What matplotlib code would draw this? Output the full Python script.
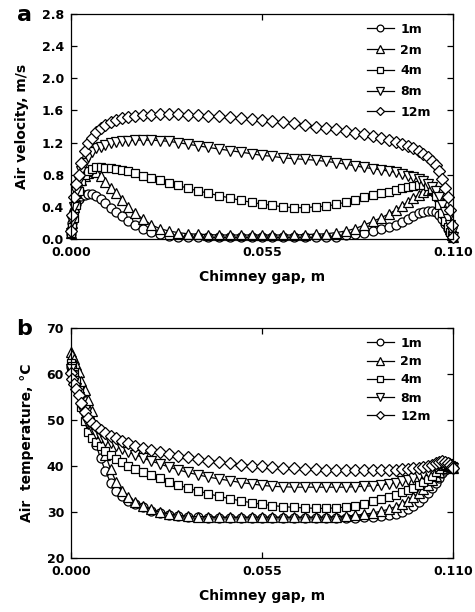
import numpy as np
import matplotlib
matplotlib.use("Agg")
import matplotlib.pyplot as plt

plt.rcParams['font.family'] = ['DejaVu Sans']
plt.rcParams['font.weight'] = 'bold'

# chimney gap positions (mm), shared by all series
gap_mm = [0, 0.4, 0.9, 1.5, 2.2, 3.0, 3.9, 4.9, 6.0, 7.2,
          8.5, 9.9, 11.4, 13.0, 14.7, 16.5, 18.5, 20.7, 23.0, 25.5,
          28.1, 30.8, 33.6, 36.5, 39.5, 42.6, 45.8, 49.0, 52.2, 55.0,
          57.8, 61.0, 64.2, 67.4, 70.5, 73.5, 76.4, 79.2, 81.9, 84.5,
          87.0, 89.3, 91.5, 93.5, 95.3, 97.0, 98.6, 100.1, 101.5, 102.8,
          104.0, 105.1, 106.1, 107.0, 107.8, 108.5, 109.1, 109.6, 110.0]

labels = ['1m', '2m', '4m', '8m', '12m']

# air velocity, m/s
v_1m = [0.06, 0.20, 0.35, 0.44, 0.50, 0.53, 0.55, 0.56, 0.555, 0.53,
        0.50, 0.45, 0.39, 0.33, 0.28, 0.22, 0.17, 0.12, 0.09, 0.06,
        0.04, 0.03, 0.025, 0.02, 0.02, 0.02, 0.02, 0.02, 0.02, 0.02,
        0.02, 0.02, 0.02, 0.02, 0.02, 0.02, 0.03, 0.045, 0.06, 0.08,
        0.10, 0.125, 0.15, 0.18, 0.215, 0.25, 0.29, 0.32, 0.34, 0.35,
        0.35, 0.335, 0.30, 0.25, 0.19, 0.12, 0.07, 0.04, 0.02]
v_2m = [0.07, 0.20, 0.40, 0.57, 0.66, 0.73, 0.78, 0.82, 0.84, 0.83,
        0.79, 0.71, 0.64, 0.57, 0.49, 0.40, 0.32, 0.25, 0.18, 0.13,
        0.10, 0.08, 0.065, 0.06, 0.055, 0.05, 0.05, 0.05, 0.05, 0.05,
        0.05, 0.05, 0.05, 0.055, 0.06, 0.065, 0.08, 0.10, 0.13, 0.175,
        0.22, 0.265, 0.31, 0.36, 0.41, 0.46, 0.51, 0.55, 0.58, 0.61,
        0.62, 0.60, 0.53, 0.43, 0.32, 0.22, 0.12, 0.05, 0.02]
v_4m = [0.07, 0.15, 0.26, 0.42, 0.60, 0.72, 0.80, 0.85, 0.875, 0.89,
        0.89, 0.885, 0.88, 0.87, 0.86, 0.84, 0.82, 0.79, 0.76, 0.73,
        0.70, 0.67, 0.63, 0.60, 0.57, 0.54, 0.51, 0.48, 0.455, 0.435,
        0.42, 0.40, 0.39, 0.39, 0.40, 0.41, 0.43, 0.46, 0.49, 0.52,
        0.55, 0.57, 0.59, 0.61, 0.63, 0.65, 0.66, 0.67, 0.67, 0.66,
        0.62, 0.54, 0.42, 0.32, 0.22, 0.15, 0.09, 0.05, 0.02]
v_8m = [0.08, 0.22, 0.40, 0.58, 0.72, 0.85, 0.95, 1.02, 1.08, 1.13,
        1.15, 1.17, 1.19, 1.205, 1.215, 1.225, 1.23, 1.23, 1.23, 1.225,
        1.215, 1.20, 1.18, 1.16, 1.14, 1.12, 1.10, 1.08, 1.06, 1.04,
        1.03, 1.01, 1.00, 0.99, 0.98, 0.965, 0.95, 0.93, 0.91, 0.89,
        0.875, 0.86, 0.845, 0.83, 0.81, 0.79, 0.77, 0.75, 0.72, 0.69,
        0.65, 0.60, 0.52, 0.42, 0.33, 0.25, 0.17, 0.09, 0.02]
v_12m = [0.10, 0.30, 0.52, 0.68, 0.80, 0.95, 1.10, 1.19, 1.26, 1.33,
         1.38, 1.42, 1.45, 1.48, 1.50, 1.52, 1.53, 1.54, 1.545, 1.55,
         1.55, 1.55, 1.545, 1.54, 1.535, 1.525, 1.515, 1.50, 1.49, 1.48,
         1.47, 1.455, 1.44, 1.42, 1.40, 1.385, 1.365, 1.345, 1.325, 1.305,
         1.28, 1.26, 1.235, 1.21, 1.185, 1.16, 1.13, 1.10, 1.06, 1.02,
         0.97, 0.92, 0.84, 0.75, 0.64, 0.52, 0.36, 0.17, 0.03]

# air temperature, C
t_1m = [61.5, 61.0, 60.2, 59.0, 57.5, 55.6, 53.2, 50.5, 47.5, 44.6,
        41.7, 38.9, 36.4, 34.6, 33.4, 32.5, 31.7, 31.0, 30.3, 29.8,
        29.4, 29.1, 29.0, 28.9, 28.8, 28.8, 28.8, 28.8, 28.8, 28.8,
        28.8, 28.8, 28.8, 28.8, 28.8, 28.8, 28.8, 28.8, 28.8, 28.9,
        29.0, 29.1, 29.3, 29.6, 30.0, 30.6, 31.3, 32.2, 33.1, 34.1,
        35.2, 36.3, 37.4, 38.4, 39.2, 39.7, 39.8, 39.7, 39.5]
t_2m = [64.8, 64.2, 63.2, 62.0, 60.5, 58.5, 56.5, 54.3, 52.0, 49.0,
        45.8, 42.5, 39.3, 36.5, 34.5, 33.2, 32.2, 31.3, 30.6, 30.0,
        29.6, 29.3, 29.1, 29.0, 29.0, 28.9, 28.9, 28.9, 28.9, 28.9,
        28.9, 28.9, 28.9, 28.9, 28.9, 28.9, 29.0, 29.1, 29.3, 29.5,
        29.8, 30.2, 30.6, 31.2, 31.8, 32.5, 33.3, 34.1, 35.0, 35.9,
        36.9, 37.9, 38.8, 39.5, 40.0, 40.1, 40.0, 39.7, 39.5]
t_4m = [62.5, 61.8, 60.5, 58.5, 55.8, 52.9, 49.8, 47.4, 46.2, 45.2,
        44.3, 43.3, 42.3, 41.5, 40.8, 40.1, 39.4, 38.7, 38.0, 37.3,
        36.6, 35.9, 35.2, 34.6, 34.0, 33.4, 32.9, 32.4, 32.0, 31.7,
        31.4, 31.2, 31.0, 30.9, 30.8, 30.8, 30.9, 31.1, 31.4, 31.8,
        32.3, 32.8, 33.3, 33.8, 34.3, 34.8, 35.3, 35.9, 36.5, 37.1,
        37.8, 38.6, 39.3, 39.9, 40.3, 40.3, 40.0, 39.7, 39.5]
t_8m = [61.0, 59.8, 58.5, 57.0, 55.0, 52.8, 50.6, 49.2, 48.0, 47.0,
        46.2, 45.5, 44.9, 44.3, 43.7, 43.1, 42.5, 41.8, 41.1, 40.5,
        39.8, 39.2, 38.6, 38.1, 37.6, 37.2, 36.8, 36.4, 36.1, 35.8,
        35.6, 35.5, 35.4, 35.4, 35.4, 35.4, 35.4, 35.4, 35.5, 35.6,
        35.7, 35.9, 36.1, 36.4, 36.7, 37.0, 37.4, 37.8, 38.3, 38.8,
        39.3, 39.8, 40.3, 40.6, 40.6, 40.4, 40.1, 39.8, 39.5]
t_12m = [60.2, 59.0, 57.9, 56.8, 55.4, 53.7, 51.8, 50.4, 49.4, 48.6,
         47.9, 47.2, 46.6, 46.0, 45.5, 44.9, 44.4, 43.9, 43.4, 43.0,
         42.6, 42.2, 41.9, 41.6, 41.2, 40.9, 40.6, 40.3, 40.1, 39.9,
         39.8, 39.6, 39.5, 39.4, 39.3, 39.2, 39.2, 39.1, 39.1, 39.1,
         39.1, 39.1, 39.1, 39.2, 39.3, 39.4, 39.5, 39.6, 39.8, 40.0,
         40.3, 40.6, 40.9, 41.0, 40.9, 40.6, 40.2, 39.8, 39.5]

x = np.array(gap_mm) / 1000.0
markers = ['o', '^', 's', 'v', 'D']
msizes = [6.5, 7, 6.3, 7, 5.8]

fig = plt.figure(figsize=(4.75, 6.12), dpi=100)
ax1 = fig.add_axes([0.1495, 0.6095, 0.804, 0.3676])
ax2 = fig.add_axes([0.1495, 0.0882, 0.804, 0.3758])


def draw(ax, series, ylim, yticks, ylabel, fmt, lblspace):
    for ys, lab, m, ms in zip(series, labels, markers, msizes):
        ax.plot(x, ys, color='black', linewidth=0.9, marker=m, markersize=ms,
                markerfacecolor='white', markeredgecolor='black',
                markeredgewidth=0.9, label=lab, clip_on=False)
    ax.set_xlim(0, 0.110)
    ax.set_ylim(*ylim)
    ax.set_xticks([0.0, 0.055, 0.110])
    ax.set_xticklabels(['0.000', '0.055', '0.110'])
    ax.set_yticks(yticks)
    ax.set_yticklabels([fmt.format(t) for t in yticks])
    ax.tick_params(direction='in', length=4, width=0.9, top=True, right=True,
                   labelsize=9, pad=5)
    for sp in ax.spines.values():
        sp.set_linewidth(0.9)
        sp.set_zorder(5)
    ax.set_xlabel('Chimney gap, m', fontsize=10, fontweight='bold', labelpad=8)
    ax.set_ylabel(ylabel, fontsize=10, fontweight='bold', labelpad=9)
    leg = ax.legend(loc='upper right', frameon=False, fontsize=9,
                    handlelength=2.2, handletextpad=0.5, labelspacing=lblspace,
                    borderaxespad=0.3, bbox_to_anchor=(0.965, 1.0),
                    markerscale=0.75)
    for t in leg.get_texts():
        t.set_fontweight('bold')


draw(ax1, [v_1m, v_2m, v_4m, v_8m, v_12m], (0, 2.8),
     [0.0, 0.4, 0.8, 1.2, 1.6, 2.0, 2.4, 2.8], 'Air velocity, m/s', '{:.1f}', 0.62)
draw(ax2, [t_1m, t_2m, t_4m, t_8m, t_12m], (20, 70),
     [20, 30, 40, 50, 60, 70], 'Air  temperature, \u00b0C', '{:d}', 0.42)

fig.text(0.035, 0.975, 'a', fontsize=16, fontweight='bold', va='center')
fig.text(0.035, 0.462, 'b', fontsize=16, fontweight='bold', va='center')

fig.savefig('out.png', dpi=100)
